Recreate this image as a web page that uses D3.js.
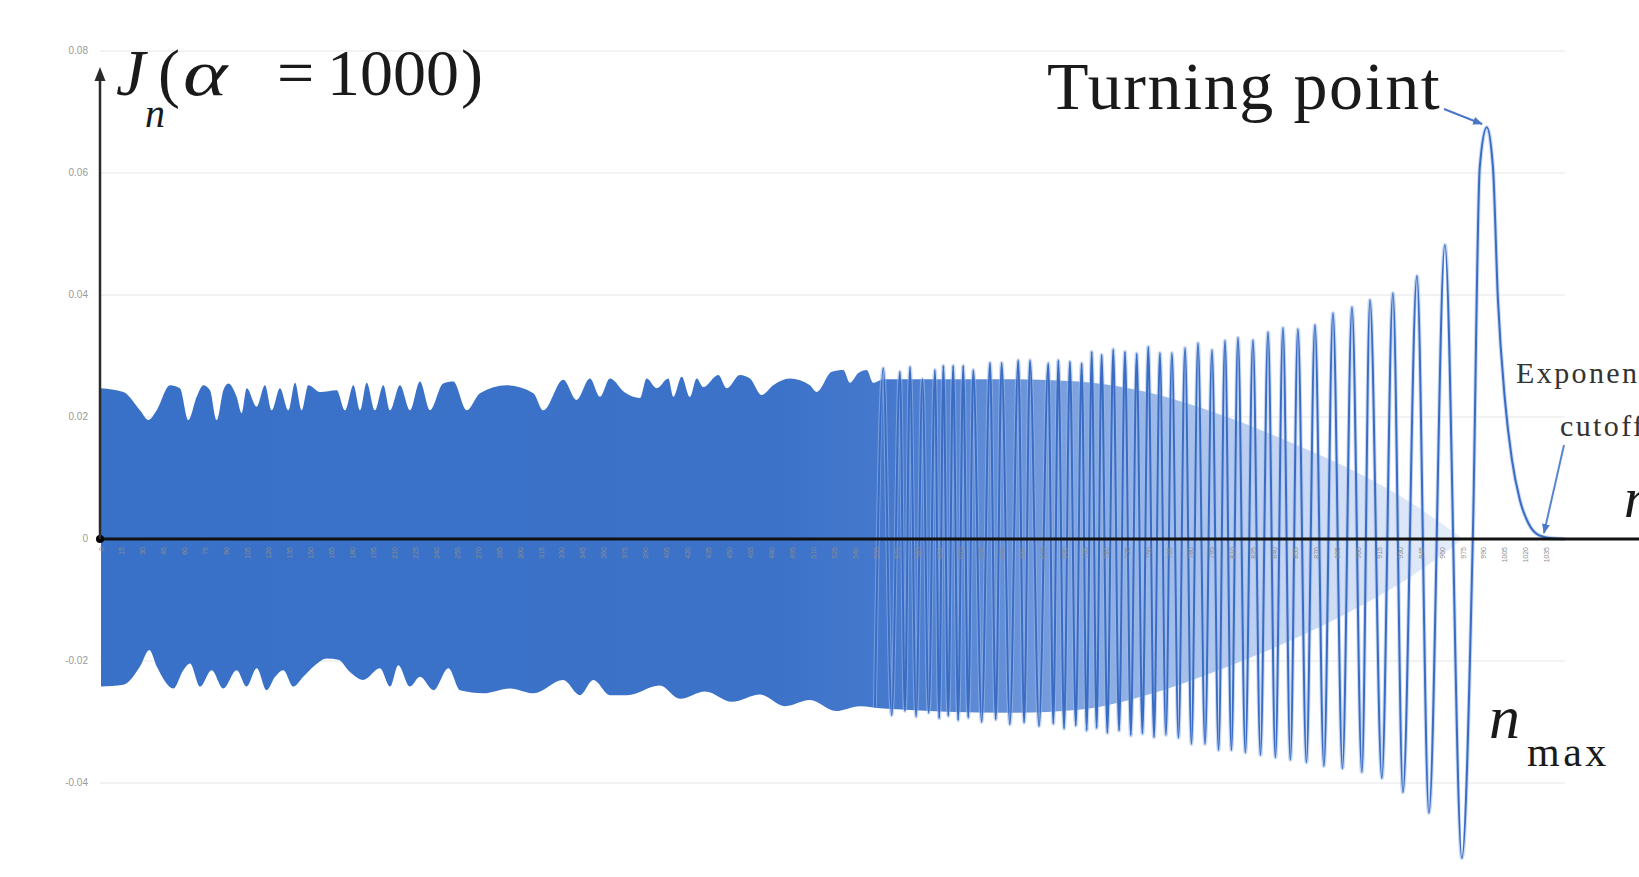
<!DOCTYPE html>
<html><head><meta charset="utf-8">
<script src="https://cdn.jsdelivr.net/npm/d3@7"></script>
<style>
html,body{margin:0;padding:0;background:#fff;overflow:hidden}
svg{display:block}
</style></head><body>
<svg id="chart" width="1639" height="877"></svg>
<script>
// ---- Bessel J_n(1000) versus order n ----

// y axis ticks
const yTicks = [0.08, 0.06, 0.04, 0.02, 0, -0.02, -0.04];
const yTickLabels = ["0.08", "0.06", "0.04", "0.02", "0", "-0.02", "-0.04"];

// category ticks along n
const xTicks = [0,15,30,45,60,75,90,105,120,135,150,165,180,195,210,225,240,255,270,285,
  300,315,330,345,360,375,390,405,420,435,450,465,480,495,510,525,540,555,570,585,
  600,615,630,645,660,675,690,705,720,735,750,765,780,795,810,825,840,855,870,885,
  900,915,930,945,960,975,990,1005,1020,1035];

// upper edge of the densely oscillating part (order n, J_n)
const bandTopN = [0,16,27.9,33.9,39.9,49.4,56.5,62.5,68.5,73.2,78,82.8,87.6,91.1,97.1,100.7,104.3,111.4,117.4,122.2,
  128.1,134.1,138.9,143.7,148.4,156.8,168.7,174.7,180.7,185.4,190.2,196.1,202.1,206.9,214,221.2,228.3,235.5,245,252.2,
  261.8,271.3,290.4,309.5,316.6,330.9,340.4,350,357.2,364.3,375,385.8,390.6,397.8,406.1,409.7,415.7,421.6,426.4,431.1,
  441.9,447.9,457.4,464.6,472.9,481.2,493.2,507.5,512.3,523.1,531.4,536.1,542.1,548.1,552.8,560,600,650,700,750,
  800,850,900,940,975];
const bandTopJ = [0.0247,0.0241,0.0211,0.0195,0.0211,0.0252,0.0247,0.0195,0.0233,0.0252,0.0244,0.0195,0.0244,0.0255,0.0233,0.0206,0.0247,0.0217,0.0252,0.0211,
  0.0247,0.0211,0.0256,0.0211,0.0252,0.0241,0.0244,0.0211,0.0252,0.0211,0.0256,0.0211,0.0252,0.0211,0.0252,0.0211,0.0258,0.0211,0.0255,0.0258,
  0.0211,0.0239,0.0252,0.0239,0.0211,0.0261,0.0228,0.0263,0.0233,0.0263,0.0240,0.0231,0.0263,0.0247,0.0263,0.0233,0.0266,0.0233,0.0263,0.0249,
  0.0269,0.0247,0.0269,0.0263,0.0236,0.0252,0.0263,0.0252,0.0241,0.0274,0.0277,0.0256,0.0272,0.0277,0.0256,0.0262,0.0262,0.0262,0.0258,0.0240,
  0.0205,0.0160,0.0108,0.0056,0];

// lower edge of the densely oscillating part
const bandBotN = [0,16,27.9,34.6,39.9,51.8,58.9,63.7,70.9,79.2,87.5,97.1,104.3,111.5,118.6,124.6,130.5,137.7,144.8,153.2,
  161.6,169.9,178.2,187.8,199.7,206.9,212.8,221.2,228.3,238.1,248.7,257,273.7,292.8,309.5,330.9,342.9,352.4,364.4,376.5,
  400,414.5,432.4,451.7,471.7,489.6,507.5,526.1,543.3,560,650,700,750,800,850,900,940,975];
const bandBotJ = [-0.0242,-0.0239,-0.0209,-0.0182,-0.0209,-0.0245,-0.0215,-0.0204,-0.0242,-0.0215,-0.0245,-0.0215,-0.0242,-0.0212,-0.0248,-0.0226,-0.0215,-0.0242,-0.0226,-0.0207,
  -0.0196,-0.0198,-0.0218,-0.0231,-0.0212,-0.0242,-0.0207,-0.0242,-0.0226,-0.0248,-0.0212,-0.0248,-0.0253,-0.0245,-0.0253,-0.0231,-0.0256,-0.0231,-0.0256,-0.0256,
  -0.0240,-0.0262,-0.0250,-0.0267,-0.0255,-0.0274,-0.0264,-0.0282,-0.0274,-0.0278,-0.0285,-0.0280,-0.0255,-0.0215,-0.0168,-0.0112,-0.0058,0];

// resolved swings: alternating troughs and peaks up to the turning point, then the cutoff tail
const swingN = [554,560,566,571.9,575.5,579.1,583.5,588,592.5,597,600,603,606.5,610,613.6,617.2,620.8,624.4,630.4,636.4,
  640.5,644.7,650.6,656.6,660.8,665,671.5,678.1,681.7,685.3,689.4,693.6,697.8,702,705.6,709.2,712.7,716.3,720.4,724.6,
  728.8,733,737.2,741.4,745.5,749.7,753.8,758,762.3,766.6,771.3,776,780.6,785.3,790.3,795.3,800,804.6,809.2,813.9,
  819.2,824.6,830,835.4,840.7,846.1,851.4,856.8,862.9,869,875.4,881.9,888.7,895.5,902.6,908.4,916.9,924.8,932,942,
  950.6,962,974.2,982,987,992,996.4,1000,1005,1010,1015.7,1022,1028,1036,1048];
const swingJ = [-0.0276,0.0280,-0.0289,0.0274,-0.0282,0.0282,-0.0291,0.0262,-0.0285,0.0277,-0.0294,0.0284,-0.0290,0.0284,-0.0297,0.0284,-0.0293,0.0277,-0.0300,0.0289,
  -0.0296,0.0289,-0.0304,0.0293,-0.0301,0.0293,-0.0307,0.0288,-0.0303,0.0293,-0.0311,0.0291,-0.0306,0.0288,-0.0314,0.0307,-0.0310,0.0302,-0.0318,0.0311,
  -0.0314,0.0307,-0.0322,0.0304,-0.0319,0.0315,-0.0325,0.0305,-0.0321,0.0305,-0.0326,0.0313,-0.0336,0.0321,-0.0336,0.0310,-0.0346,0.0325,-0.0346,0.0330,
  -0.0350,0.0326,-0.0354,0.0339,-0.0358,0.0346,-0.0362,0.0344,-0.0366,0.0351,-0.0372,0.0370,-0.0376,0.0380,-0.0382,0.0392,-0.0392,0.0403,-0.0415,0.0431,
  -0.0449,0.0482,-0.0523,0.0,0.0610,0.0675,0.0610,0.0392,0.0228,0.0130,0.0064,0.0025,0.0008,0.0002,0];

// ---- layout ----
const svg = d3.select("#chart");
const x = d3.scaleLinear().domain([0, 1048]).range([101, 1565]);
const y = d3.scaleLinear().domain([-0.04, 0.08]).range([783, 51]);
const blue = "#3a6cc4";
const serif = "'Liberation Serif','Times New Roman',serif";

const defs = svg.append("defs");
const grad = defs.append("linearGradient").attr("id", "bandFill")
  .attr("gradientUnits", "userSpaceOnUse")
  .attr("x1", x(0)).attr("x2", x(975)).attr("y1", 0).attr("y2", 0);
[[0, "#3a71c8"], [0.50, "#3c73c9"], [0.58, "#4679cd"], [0.67, "#6791d8"], [0.76, "#95b4e6"], [0.86, "#c3d4f2"], [1, "#e8eef9"]]
  .forEach(([o, c]) => grad.append("stop").attr("offset", o).attr("stop-color", c));

defs.append("marker").attr("id", "arrowBlue").attr("viewBox", "0 0 10 10")
  .attr("refX", 9).attr("refY", 5).attr("markerWidth", 5).attr("markerHeight", 5)
  .attr("orient", "auto")
  .append("path").attr("d", "M0,1 L10,5 L0,9 Z").attr("fill", "#4a78c8");

// gridlines
svg.append("g").selectAll("line").data(yTicks.filter(d => d !== 0)).join("line")
  .attr("x1", 100).attr("x2", 1565)
  .attr("y1", d => y(d)).attr("y2", d => y(d))
  .attr("stroke", "#e6e6e6").attr("stroke-width", 1.2);

// y tick labels
svg.append("g").selectAll("text").data(yTicks).join("text")
  .attr("x", 88).attr("y", d => y(d) + 3)
  .attr("text-anchor", "end")
  .attr("font-family", "'Liberation Sans',Arial,sans-serif")
  .attr("font-size", 10).attr("fill", "#9a9a9a")
  .text((d, i) => yTickLabels[i]);

// dense oscillation band
const topPts = bandTopN.map((n, i) => [n, bandTopJ[i]]);
const botPts = bandBotN.map((n, i) => [n, bandBotJ[i]]);
const bandArea = d3.area().x(d => x(d[0])).y0(y(0)).y1(d => y(d[1])).curve(d3.curveMonotoneX);
svg.append("path").datum(topPts).attr("d", bandArea).attr("fill", "url(#bandFill)");
svg.append("path").datum(botPts).attr("d", bandArea).attr("fill", "url(#bandFill)");

// resolved swings
const swingPts = swingN.map((n, i) => [n, swingJ[i]]);
const swingLine = d3.line().x(d => x(d[0])).y(d => y(d[1])).curve(d3.curveMonotoneX);
svg.append("path").datum(swingPts).attr("d", swingLine)
  .attr("fill", "none").attr("stroke", "#9fbbea").attr("stroke-width", 4).attr("stroke-opacity", 0.55);
svg.append("path").datum(swingPts).attr("d", swingLine)
  .attr("fill", "none").attr("stroke", blue).attr("stroke-width", 2);

// horizontal axis
svg.append("line").attr("x1", 100).attr("x2", 1639).attr("y1", y(0)).attr("y2", y(0))
  .attr("stroke", "#111").attr("stroke-width", 3);
svg.append("circle").attr("cx", 100).attr("cy", y(0)).attr("r", 4).attr("fill", "#000");

// category labels under the axis
svg.append("g").selectAll("text").data(xTicks).join("text")
  .attr("transform", d => `translate(${x(d) + 2.5},${y(0) + 8}) rotate(-90)`)
  .attr("text-anchor", "end")
  .attr("font-family", "'Liberation Sans',Arial,sans-serif")
  .attr("font-size", 7).attr("fill", "#8c8c8c")
  .text(d => d);

// vertical axis with arrow
svg.append("line").attr("x1", 100).attr("x2", 100).attr("y1", y(0)).attr("y2", 78)
  .attr("stroke", "#2a2a2a").attr("stroke-width", 2.5);
svg.append("path").attr("d", "M100,67 L94.5,81 L105.5,81 Z").attr("fill", "#2a2a2a");

// title J_n(α = 1000)
const title = svg.append("g").attr("font-family", serif).attr("fill", "#1a1a1a");
title.append("text").attr("x", 116).attr("y", 95).attr("font-size", 66).attr("font-style", "italic").text("J");
title.append("text").attr("x", 145).attr("y", 127).attr("font-size", 40).attr("font-style", "italic").text("n");
title.append("text").attr("x", 158).attr("y", 95).attr("font-size", 66).text("(");
title.append("text").attr("transform", "translate(183,95) scale(1.28,1)")
  .attr("font-size", 66).attr("font-style", "italic").text("α");
title.append("text").attr("x", 277).attr("y", 95).attr("font-size", 66).text("=");
title.append("text").attr("x", 327).attr("y", 95).attr("font-size", 66).text("1000");
title.append("text").attr("x", 461).attr("y", 95).attr("font-size", 66).text(")");

// annotations
svg.append("text").attr("x", 1047).attr("y", 109)
  .attr("font-family", serif).attr("font-size", 68).attr("letter-spacing", 1.6)
  .attr("fill", "#1a1a1a").text("Turning point");
svg.append("line").attr("x1", 1444).attr("y1", 109).attr("x2", 1482).attr("y2", 124)
  .attr("stroke", "#4a78c8").attr("stroke-width", 2).attr("marker-end", "url(#arrowBlue)");

svg.append("text").attr("x", 1516).attr("y", 383)
  .attr("font-family", serif).attr("font-size", 30).attr("letter-spacing", 2.4)
  .attr("fill", "#333").text("Exponential");
svg.append("text").attr("x", 1560).attr("y", 436)
  .attr("font-family", serif).attr("font-size", 30).attr("letter-spacing", 2.4)
  .attr("fill", "#333").text("cutoff");
svg.append("line").attr("x1", 1564).attr("y1", 445).attr("x2", 1544).attr("y2", 533)
  .attr("stroke", "#5a86d0").attr("stroke-width", 2).attr("marker-end", "url(#arrowBlue)");

// axis variable n at the right end
svg.append("text").attr("x", 1624).attr("y", 517)
  .attr("font-family", serif).attr("font-size", 58).attr("font-style", "italic")
  .attr("fill", "#1a1a1a").text("n");

// n_max label
svg.append("text").attr("x", 1489).attr("y", 738)
  .attr("font-family", serif).attr("font-size", 62).attr("font-style", "italic")
  .attr("fill", "#1a1a1a").text("n");
svg.append("text").attr("x", 1527).attr("y", 766)
  .attr("font-family", serif).attr("font-size", 42).attr("letter-spacing", 3.5)
  .attr("fill", "#1a1a1a").text("max");
</script>
</body></html>
